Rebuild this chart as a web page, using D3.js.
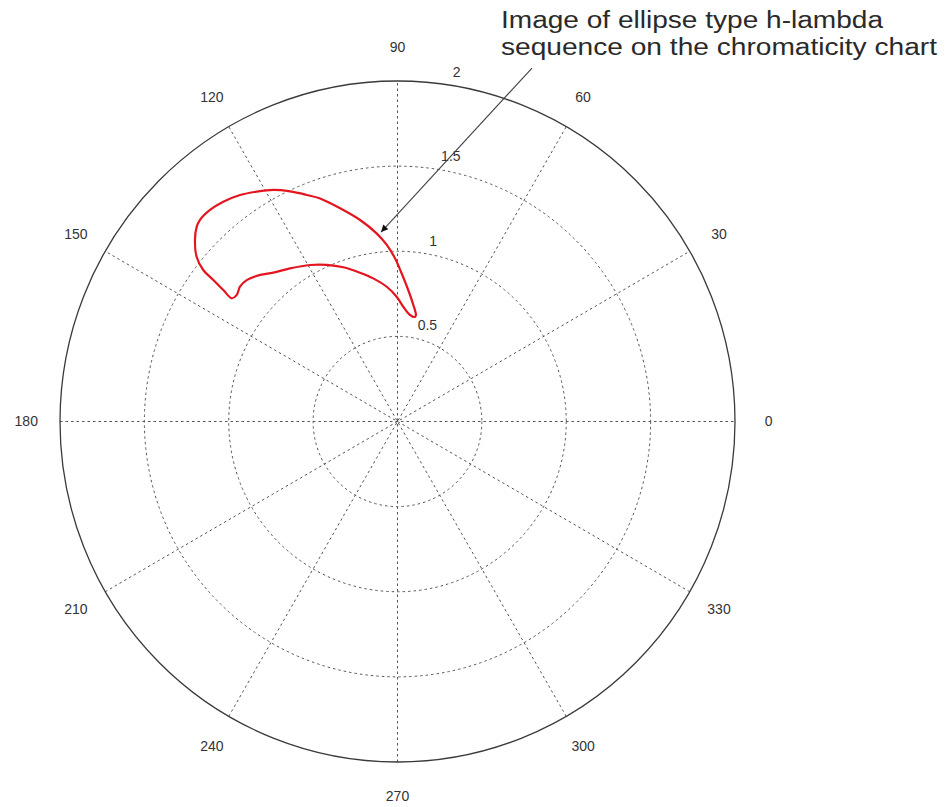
<!DOCTYPE html>
<html>
<head>
<meta charset="utf-8">
<script src="https://cdn.jsdelivr.net/npm/d3@7"></script>
<style>
  html, body { margin: 0; padding: 0; background: #fff; }
  svg { display: block; }
</style>
</head>
<body>
<svg id="chart" width="945" height="807"></svg>
<script>
// ---------- data ----------
const angleTicks = [0, 30, 60, 90, 120, 150, 180, 210, 240, 270, 300, 330];
const angleTickLabels = ["0", "30", "60", "90", "120", "150", "180", "210", "240", "270", "300", "330"];
const radialTicks = [0.5, 1, 1.5, 2];
const radialTickLabels = ["0.5", "1", "1.5", "2"];
const rMax = 2;

// h-lambda sequence image: polar angle (degrees) and radius
const curveTheta = [138.4, 136.1, 134.7, 131.8, 128.65, 125.05, 121.7, 118.4, 115.25, 112.0,
  109.3, 105.2, 100.6, 96.4, 93.5, 90.9, 88.4, 85.3, 82.2, 80.1, 80.4,
  83.2, 87.1, 90.4, 94.6, 99.7, 104.3, 109.5, 114.5, 119.4, 125.3, 130.1, 133.4, 137.1,
  139.7, 142.1, 143.6, 143.2, 142.7, 142.3, 140.9];
const curveR = [1.605, 1.651, 1.665, 1.667, 1.653, 1.625, 1.587, 1.546, 1.494, 1.435,
  1.388, 1.298, 1.204, 1.112, 1.039, 0.959, 0.871, 0.775, 0.691, 0.635, 0.623,
  0.630, 0.675, 0.733, 0.794, 0.853, 0.902, 0.961, 1.011, 1.055, 1.102, 1.143, 1.185, 1.220,
  1.224, 1.208, 1.220, 1.289, 1.372, 1.455, 1.534];

// annotation: arrow tail / tip in polar coords (deg, r)
const arrowTheta = [69.0, 95.0];
const arrowR = [2.224, 1.117];
const annotationLines = ["Image of ellipse type h-lambda", "sequence on the chromaticity chart"];

// ---------- layout ----------
const cx = 397.5, cy = 421.5;
const rx = d3.scaleLinear().domain([0, rMax]).range([0, 337.5]);
const ry = d3.scaleLinear().domain([0, rMax]).range([0, 340.5]);
const rad = d => d * Math.PI / 180;
const px = (t, r) => cx + rx(r) * Math.cos(rad(t));
const py = (t, r) => cy - ry(r) * Math.sin(rad(t));

const svg = d3.select("#chart");
const font = "'Liberation Sans', Arial, Helvetica, sans-serif";
const gridColor = "#555";

// white disc
svg.append("ellipse").attr("cx", cx).attr("cy", cy)
  .attr("rx", rx(rMax)).attr("ry", ry(rMax)).attr("fill", "#fff");

// dotted inner circles
svg.append("g").selectAll("ellipse")
  .data(radialTicks.filter(v => v < rMax))
  .join("ellipse")
  .attr("cx", cx).attr("cy", cy)
  .attr("rx", d => rx(d)).attr("ry", d => ry(d))
  .attr("fill", "none").attr("stroke", gridColor)
  .attr("stroke-width", 1).attr("stroke-dasharray", "2.5,3");

// spokes
svg.append("g").selectAll("line")
  .data(angleTicks.filter(a => a < 180))
  .join("line")
  .attr("x1", d => px(d + 180, rMax)).attr("y1", d => py(d + 180, rMax))
  .attr("x2", d => px(d, rMax)).attr("y2", d => py(d, rMax))
  .attr("stroke", gridColor).attr("stroke-width", 1)
  .attr("stroke-dasharray", "2.5,3");

// outer solid circle
svg.append("ellipse").attr("cx", cx).attr("cy", cy)
  .attr("rx", rx(rMax)).attr("ry", ry(rMax))
  .attr("fill", "none").attr("stroke", "#3a3a3a").attr("stroke-width", 1.3);

// angle labels
svg.append("g").selectAll("text")
  .data(angleTicks)
  .join("text")
  .attr("x", d => px(d, rMax * 1.1))
  .attr("y", d => py(d, rMax * 1.1))
  .attr("text-anchor", "middle").attr("dy", "0.35em")
  .attr("font-family", font).attr("font-size", 14).attr("fill", "#333")
  .text((d, i) => angleTickLabels[i]);

// radial labels (placed at 82 degrees, like MATLAB polar)
svg.append("g").selectAll("text")
  .data(radialTicks)
  .join("text")
  .attr("x", d => px(82, d + 0.025) + 7.8)
  .attr("y", d => py(82, d + 0.025) - 3)
  .attr("text-anchor", "start")
  .attr("font-family", font).attr("font-size", 14).attr("fill", "#333")
  .text((d, i) => radialTickLabels[i]);

// red curve
const pts = curveTheta.map((t, i) => [px(t, curveR[i]), py(t, curveR[i])]);
svg.append("path")
  .attr("d", d3.line().curve(d3.curveCatmullRomClosed.alpha(0.5))(pts))
  .attr("fill", "none").attr("stroke", "#e3161f").attr("stroke-width", 2.2)
  .attr("stroke-linejoin", "round");

// arrow annotation
const defs = svg.append("defs");
defs.append("marker").attr("id", "ah")
  .attr("viewBox", "0 0 10 10").attr("refX", 10).attr("refY", 5)
  .attr("markerWidth", 9).attr("markerHeight", 7).attr("markerUnits", "userSpaceOnUse")
  .attr("orient", "auto")
  .append("path").attr("d", "M0,0 L10,5 L0,10 Z").attr("fill", "#111");

svg.append("line")
  .attr("x1", px(arrowTheta[0], arrowR[0])).attr("y1", py(arrowTheta[0], arrowR[0]))
  .attr("x2", px(arrowTheta[1], arrowR[1])).attr("y2", py(arrowTheta[1], arrowR[1]))
  .attr("stroke", "#444").attr("stroke-width", 1.1)
  .attr("marker-end", "url(#ah)");

svg.append("g").selectAll("text")
  .data(annotationLines)
  .join("text")
  .attr("x", 501).attr("y", (d, i) => 28 + i * 27)
  .attr("font-family", font).attr("font-size", 23).attr("fill", "#2a2a2a")
  .attr("textLength", (d, i) => i === 0 ? 382 : 436)
  .attr("lengthAdjust", "spacingAndGlyphs")
  .text(d => d);
</script>
</body>
</html>
